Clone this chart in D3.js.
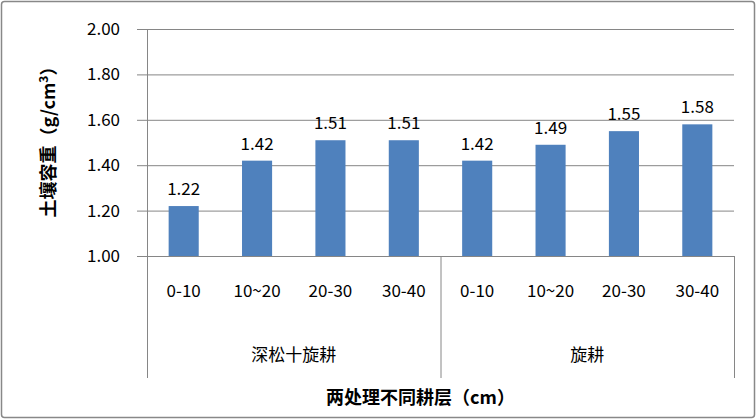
<!DOCTYPE html>
<html><head><meta charset="utf-8">
<script src="https://cdn.jsdelivr.net/npm/d3@7"></script>
<style>body{margin:0;background:#fff}</style>
</head><body><div id="wrapper"></div>
<script>
const groups = ["深松十旋耕", "旋耕"]
const layers = ["0-10", "10~20", "20-30", "30-40"]
const values = [1.22, 1.42, 1.51, 1.51, 1.42, 1.49, 1.55, 1.58]
const yTicks = [1.00, 1.20, 1.40, 1.60, 1.80, 2.00]

const dataset = values.map((v, i) => ({ key: i, group: groups[Math.floor(i / 4)], layer: layers[i % 4], value: v }))

const margin = { top: 29, left: 147, right: 22, bottom: 163 }
const width = 756, height = 419
const boundedWidth = width - margin.left - margin.right
const boundedHeight = height - margin.top - margin.bottom

const svg = d3.select("#wrapper").append("svg").attr("width", width).attr("height", height)
  .style("font-family", "'Noto Sans CJK SC', sans-serif")

svg.append("rect").attr("x", 1.5).attr("y", 1.5).attr("width", width - 3).attr("height", height - 3)
  .attr("fill", "#fff").attr("stroke", "#888").attr("stroke-width", 1.5).attr("rx", 3)

const g = svg.append("g").attr("transform", `translate(${margin.left},${margin.top})`)

const xScale = d3.scaleBand().domain(dataset.map(d => d.key)).range([0, boundedWidth]).paddingInner(0.59).paddingOuter(0.295)
const yScale = d3.scaleLinear().domain([1, 2]).range([boundedHeight, 0])

// grid
g.selectAll(".grid").data(yTicks).enter().append("line")
  .attr("x1", -10).attr("x2", boundedWidth)
  .attr("y1", d => yScale(d) + 0.5).attr("y2", d => yScale(d) + 0.5)
  .attr("stroke", "#868686")

g.selectAll(".ytick").data(yTicks).enter().append("text")
  .attr("x", -27).attr("y", d => yScale(d)).attr("dy", "0.35em")
  .attr("text-anchor", "end").attr("font-size", 17).attr("fill", "#000")
  .text(d => d.toFixed(2))

// vertical axis lines
const bottomY = 349
const step = boundedWidth / 8
;[0, 4 * step, boundedWidth].forEach(x => {
  g.append("line").attr("x1", x + 0.5).attr("x2", x + 0.5)
    .attr("y1", x === 0 ? 0 : boundedHeight).attr("y2", bottomY).attr("stroke", "#868686")
})

g.selectAll(".bar").data(dataset).enter().append("rect")
  .attr("x", d => xScale(d.key)).attr("width", xScale.bandwidth())
  .attr("y", d => yScale(d.value)).attr("height", d => boundedHeight - yScale(d.value))
  .attr("fill", "#4f81bd")

g.selectAll(".lbl").data(dataset).enter().append("text")
  .attr("x", d => xScale(d.key) + xScale.bandwidth() / 2).attr("y", d => yScale(d.value) - 11)
  .attr("text-anchor", "middle").attr("font-size", 17).text(d => d.value.toFixed(2))

g.selectAll(".cat").data(dataset).enter().append("text")
  .attr("x", d => xScale(d.key) + xScale.bandwidth() / 2).attr("y", boundedHeight + 41)
  .attr("text-anchor", "middle").attr("font-size", 17).text(d => d.layer)

g.selectAll(".grp").data(groups).enter().append("text")
  .attr("x", (d, i) => (i * 4 + 2) * step).attr("y", boundedHeight + 105)
  .attr("text-anchor", "middle").attr("font-size", 17).text(d => d)

svg.append("text").attr("x", margin.left + boundedWidth / 2 - 20).attr("y", 404)
  .attr("text-anchor", "middle").attr("font-size", 18).attr("font-weight", "bold")
  .text("两处理不同耕层（cm）")

svg.append("text").attr("transform", `translate(55,${margin.top + boundedHeight / 2 - 5}) rotate(-90)`)
  .attr("text-anchor", "middle").attr("font-size", 18).attr("font-weight", "bold")
  .html("土壤容重（g/cm<tspan dy='-7' font-size='12'>3</tspan><tspan dy='7'>）</tspan>")
</script></body></html>
